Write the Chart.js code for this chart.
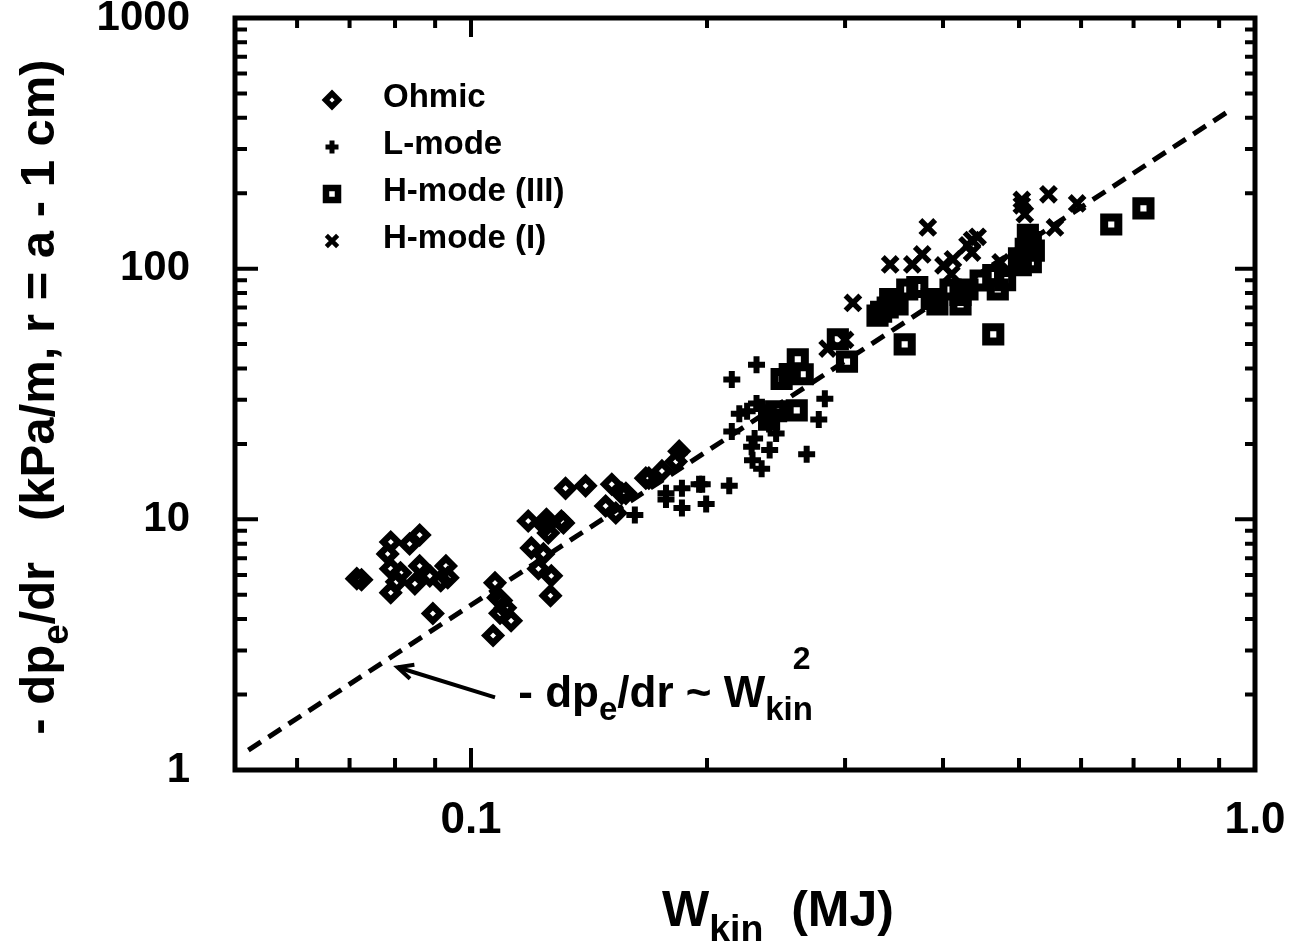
<!DOCTYPE html>
<html><head><meta charset="utf-8">
<script src="https://cdn.jsdelivr.net/npm/chart.js@4/dist/chart.umd.min.js"></script>
<style>html,body{margin:0;padding:0;background:#fff;}canvas{display:block;}</style>
</head><body>
<canvas id="c" width="1301" height="947"></canvas>
<script>
// ---------- data (W_kin in MJ, -dpe/dr in kPa/m) ----------
const ohmicW  = [0.0715,0.0725,0.079,0.086,0.0835,0.0783,0.079,0.0804,0.079,0.0848,0.086,0.0886,0.0929,0.0934,0.0915,0.0894,0.0813,
                 0.1073,0.1083,0.1106,0.1125,0.1067,0.1089,0.1093,
                 0.1183,0.1248,0.1312,0.1255,0.1194,0.1237,0.1219,0.1266,0.1263,0.1244,0.1304,
                 0.1320,0.140,0.1512,0.1557,0.1485,0.153,
                 0.1671,0.1686,0.1752,0.1826,0.1843,0.1576];
const ohmicDp = [5.8,5.74,8.12,8.66,7.98,7.28,6.35,5.64,5.10,5.53,6.52,5.95,6.52,5.85,5.69,4.21,6.12,
                 5.58,4.87,4.44,3.94,3.44,4.22,4.74,
                 9.85,10.0,9.67,8.82,7.69,7.28,6.35,5.95,4.96,9.41,9.85,
                 13.3,13.6,13.8,12.7,11.3,10.6,
                 14.6,14.6,15.6,17.0,18.7,12.7];
const lmodeW  = [0.1618,0.1773,0.1773,0.1858,0.1954,0.1972,0.1995,0.1858,0.2135,0.2313,0.2151,0.2827,0.2777,0.268,
                 0.2348,0.2404,0.2286,0.2199,0.2313,0.2151,0.1843,0.225,0.235,0.24,0.23,0.245,0.228];
const lmodeDp = [10.4,12.7,12.0,13.3,13.8,13.8,11.5,11.1,13.6,41.4,36.1,30.3,25.0,18.2,
                 15.9,18.9,17.2,26.4,29.0,22.4,18.5,27,28,24,21,22,19.5];
const h3W  = [0.2490,0.2611,0.2603,0.2649,0.2937,0.3017,0.3335,0.3425,0.3601,0.3709,0.387,0.3935,0.4089,0.4211,0.4211,
              0.4298,0.4467,0.4636,0.4698,0.5027,0.5132,0.5177,0.5223,0.5177,0.3574,0.4636,0.6556,0.7206,
              0.24,0.245,0.255,0.33,0.34,0.35,0.51,0.50,0.48];
const h3Dp = [36.3,43.5,27.2,37.9,52.3,42.6,67.3,75.7,82.6,84.5,75.7,72.0,82.6,78.6,72.0,
              82.6,89.7,94.3,82.6,103.3,136.6,127.6,118,106.2,49.9,54.7,150,174,
              25,27,38,65,70,72,120,110,90];
const h1W  = [0.3825,0.3425,0.3655,0.3763,0.3070,0.4298,0.4428,0.4356,0.4118,0.4005,0.4356,0.5042,0.5086,0.5452,
              0.5931,0.5557,0.5042,0.4737,0.285,0.30,0.41];
const h1Dp = [146,104,104,114,73,124,134,116,109,103,130,188,165,198,
              182,146,179,106,48,52,95];
const fitW  = [0.052, 0.92];
const fitDp = [1.2, 420];

const seriesNames = ['Ohmic','L-mode','H-mode (III)','H-mode (I)'];
const xMajor = [0.1, 1.0];
const xMinor = [0.06,0.07,0.08,0.09,0.2,0.3,0.4,0.5,0.6,0.7,0.8,0.9];
const yMajor = [1, 10, 100, 1000];
const yMinor = [2,3,4,5,6,7,8,9,20,30,40,50,60,70,80,90,200,300,400,500,600,700,800,900];
const xLabels = {0.1:'0.1', 1:'1.0'};
const yLabels = {1:'1', 10:'10', 100:'100', 1000:'1000'};
// annotation anchor points (data coordinates)
const arrowTail = {x:0.1073, y:1.95};
const arrowHead = {x:0.0806, y:2.57};
const annoText  = {x:0.1149, y:1.78};

// ---------- helpers ----------
const FONT = '"Liberation Sans", Arial, Helvetica, sans-serif';
const pts = (xs, ys) => xs.map((x,i)=>({x, y: ys[i]}));
function rich(ctx, parts, x, y, size){
  let cx = x; const pos=[];
  for(const p of parts){
    const s = size*(p.s||1);
    ctx.font = `bold ${s}px ${FONT}`;
    ctx.fillText(p.t, cx, y + (p.dy||0)*size);
    const w = ctx.measureText(p.t).width;
    pos.push({x:cx,w}); cx += w;
  }
  return {end:cx,pos};
}
function richWidth(ctx, parts, size){
  let w=0; for(const p of parts){ctx.font=`bold ${size*(p.s||1)}px ${FONT}`; w+=ctx.measureText(p.t).width;} return w;
}

const styles = [
  {pointStyle:'rectRot', radius:7.5, bw:6.5},
  {pointStyle:'cross', radius:8.5, bw:6},
  {pointStyle:'rect', radius:10, bw:8},
  {pointStyle:'crossRot', radius:10.5, bw:5.5},
];

const decor = {
  id:'decor',
  afterDatasetsDraw(chart){
    const ctx = chart.ctx, ca = chart.chartArea, xs = chart.scales.x, ys = chart.scales.y;
    ctx.save();
    ctx.strokeStyle='#000'; ctx.fillStyle='#000'; ctx.lineCap='butt';
    // frame
    ctx.lineWidth = 5;
    ctx.strokeRect(ca.left, ca.top, ca.right-ca.left, ca.bottom-ca.top);
    // ticks
    ctx.lineWidth = 4;
    const drawX = (vals, lb, lt) => vals.forEach(v=>{
      const px = xs.getPixelForValue(v);
      ctx.beginPath(); ctx.moveTo(px, ca.bottom); ctx.lineTo(px, ca.bottom-lb);
      ctx.moveTo(px, ca.top); ctx.lineTo(px, ca.top+lt); ctx.stroke();
    });
    const drawY = (vals, ll, lr) => vals.forEach(v=>{
      const py = ys.getPixelForValue(v);
      ctx.beginPath(); ctx.moveTo(ca.left, py); ctx.lineTo(ca.left+ll, py);
      ctx.moveTo(ca.right, py); ctx.lineTo(ca.right-lr, py); ctx.stroke();
    });
    drawX(xMajor, 22, 19); drawX(xMinor, 12, 10);
    drawY(yMajor, 23, 20); drawY(yMinor, 12, 10);

    // legend
    const lx = ca.left + 97, ly0 = ca.top + 82, dy = 47;
    const legSizes = [{r:6.5,bw:5.5},{r:6.5,bw:5},{r:8.5,bw:6.5},{r:8,bw:4.5}];
    seriesNames.forEach((n,i)=>{
      const y = ly0 + i*dy;
      ctx.fillStyle = 'rgba(0,0,0,0)';
      ctx.lineWidth = legSizes[i].bw;
      Chart.helpers.drawPoint(ctx, {pointStyle:styles[i].pointStyle, radius:legSizes[i].r, rotation:0, borderWidth:legSizes[i].bw}, lx, y);
      ctx.fillStyle = '#000';
      ctx.font = `bold 33px ${FONT}`; ctx.textBaseline='middle'; ctx.textAlign='left';
      ctx.fillText(n, lx+51, y-2);
    });

    // annotation arrow
    const tx = xs.getPixelForValue(arrowTail.x), ty = ys.getPixelForValue(arrowTail.y);
    const hx = xs.getPixelForValue(arrowHead.x), hy = ys.getPixelForValue(arrowHead.y);
    ctx.lineWidth = 4;
    ctx.beginPath(); ctx.moveTo(tx,ty); ctx.lineTo(hx,hy); ctx.stroke();
    const ang = Math.atan2(hy-ty, hx-tx), al = 17, aw = 0.45;
    ctx.beginPath();
    ctx.moveTo(hx - al*Math.cos(ang-aw), hy - al*Math.sin(ang-aw));
    ctx.lineTo(hx, hy);
    ctx.lineTo(hx - al*Math.cos(ang+aw), hy - al*Math.sin(ang+aw));
    ctx.stroke();
    // annotation text
    ctx.textBaseline='alphabetic'; ctx.textAlign='left';
    const ax = xs.getPixelForValue(annoText.x), ay = ys.getPixelForValue(annoText.y);
    const r = rich(ctx, [{t:'- dp'},{t:'e',s:0.75,dy:0.3},{t:'/dr ~ W'},{t:'kin',s:0.75,dy:0.3}], ax, ay, 44);
    const kin = r.pos[3];
    ctx.font = `bold 32px ${FONT}`;
    ctx.fillText('2', kin.x + kin.w - 20, ay - 38);

    // x title
    const xt = [{t:'W'},{t:'kin',s:0.75,dy:0.3},{t:'  (MJ)'}];
    const xw = richWidth(ctx, xt, 50);
    rich(ctx, xt, 778 - xw/2, 926, 50);

    // y title
    const yt = [{t:'- dp'},{t:'e',s:0.75,dy:0.28},{t:'/dr   (kPa/m, r = a - 1 cm)'}];
    ctx.translate(54, 397); ctx.rotate(-Math.PI/2);
    const yw = richWidth(ctx, yt, 49);
    rich(ctx, yt, -yw/2, 0, 49);
    ctx.restore();
  }
};

const ds = (label, xs, ys, i) => ({
  label, data: pts(xs, ys), pointStyle: styles[i].pointStyle, pointRadius: styles[i].radius,
  pointBorderWidth: styles[i].bw, borderColor:'#000', pointBorderColor:'#000',
  backgroundColor:'rgba(0,0,0,0)', pointBackgroundColor:'rgba(0,0,0,0)', showLine:false
});

new Chart(document.getElementById('c'), {
  type:'scatter',
  data:{ datasets:[
    {label:'fit', data: pts(fitW, fitDp), showLine:true, borderColor:'#000', borderWidth:5,
     borderDash:[15,9], pointRadius:0, fill:false},
    ds(seriesNames[0], ohmicW, ohmicDp, 0),
    ds(seriesNames[1], lmodeW, lmodeDp, 1),
    ds(seriesNames[2], h3W, h3Dp, 2),
    ds(seriesNames[3], h1W, h1Dp, 3),
  ]},
  options:{
    responsive:false, animation:false, devicePixelRatio:1,
    layout:{padding:{top:16, right:46, left:0, bottom:0}},
    plugins:{legend:{display:false}, tooltip:{enabled:false}},
    scales:{
      x:{type:'logarithmic', min:0.05, max:1.0, position:'bottom',
         grid:{display:false, drawTicks:false}, border:{display:false},
         afterBuildTicks:s=>{s.ticks = xMajor.map(v=>({value:v, major:true}));},
         afterFit:s=>{s.height=177; s.paddingLeft=0; s.paddingRight=0;},
         ticks:{autoSkip:false, maxRotation:0, padding:24, color:'#000',
                font:{family:FONT, size:44, weight:'bold'},
                callback:v=> xLabels[v] ?? ''}},
      y:{type:'logarithmic', min:1, max:1000, position:'left',
         grid:{display:false, drawTicks:false}, border:{display:false},
         afterBuildTicks:s=>{s.ticks = yMajor.map(v=>({value:v, major:true}));},
         afterFit:s=>{s.width=235; s.paddingTop=0; s.paddingBottom=0;},
         ticks:{autoSkip:false, padding:45, color:'#000',
                font:{family:FONT, size:42, weight:'bold'},
                callback:v=> yLabels[v] ?? ''}}
    }
  },
  plugins:[decor]
});
</script>
</body></html>
